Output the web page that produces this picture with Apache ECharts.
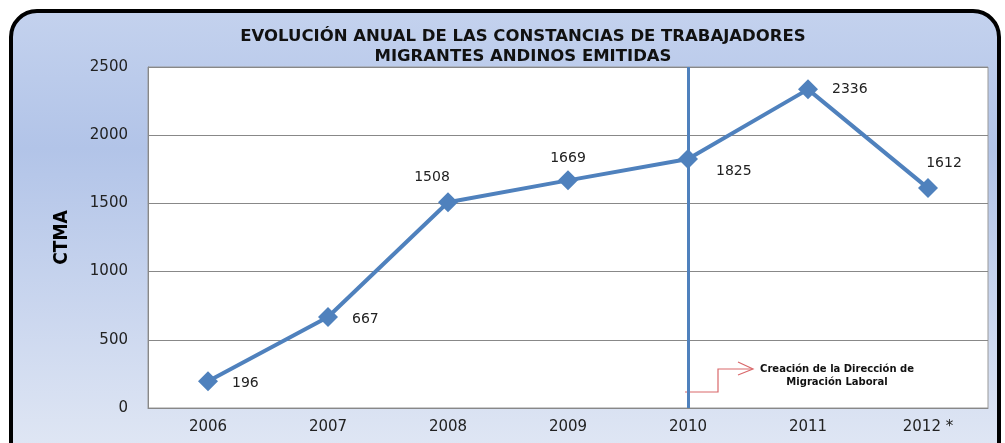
<!DOCTYPE html>
<html>
<head>
<meta charset="utf-8">
<script src="https://cdn.jsdelivr.net/npm/echarts@6/dist/echarts.min.js"></script>
<style>
  html, body { margin: 0; padding: 0; background: #fff; }
  #chart { width: 1005px; height: 443px; }
</style>
</head>
<body>
<div id="chart"></div>
<script>
// datos del gráfico
const years = ['2006', '2007', '2008', '2009', '2010', '2011', '2012 *'];
const ctma = [196, 667, 1508, 1669, 1825, 2336, 1612];
// posición de cada etiqueta de dato
const labelPos = ['right', 'right', 'top', 'top', 'right', 'right', 'top'];
const labelOffset = [[0, 2], [0, 2], [-16, 6], [0, 9], [4, 12], [0, 0], [16, 6]];

const myChart = echarts.init(document.getElementById('chart'));

const option = {
    backgroundColor: '#fff',
    title: {
        text: 'EVOLUCIÓN ANUAL DE LAS CONSTANCIAS DE TRABAJADORES\nMIGRANTES ANDINOS EMITIDAS',
        left: 518,
        top: 22,
        textAlign: 'center',
        textStyle: {
            fontFamily: 'DejaVu Sans',
            fontWeight: 'bold',
            fontSize: 16.5,
            lineHeight: 20,
            color: '#111'
        }
    },
    graphic: [
        {
            type: 'rect',
            z: -10,
            silent: true,
            shape: { x: 11, y: 11, width: 988, height: 460, r: 26 },
            style: {
                fill: new echarts.graphic.LinearGradient(0, 0, 0, 1, [
                    { offset: 0, color: '#c4d2ee' },
                    { offset: 0.3, color: '#b2c4e8' },
                    { offset: 1, color: '#e3e9f5' }
                ]),
                stroke: '#000',
                lineWidth: 4
            }
        },
        {
            type: 'polyline',
            silent: true,
            shape: { points: [[685, 392], [718, 392], [718, 369], [752, 369]] },
            style: { stroke: '#d9686a', lineWidth: 1.2, fill: null }
        },
        {
            type: 'polyline',
            silent: true,
            shape: { points: [[738, 362], [753, 369], [738, 375]] },
            style: { stroke: '#d9686a', lineWidth: 1.2, fill: null }
        },
        {
            type: 'text',
            silent: true,
            style: {
                text: 'Creación de la Dirección de\nMigración Laboral',
                x: 837,
                y: 363,
                align: 'center',
                fontFamily: 'DejaVu Sans',
                fontWeight: 'bold',
                fontSize: 10,
                lineHeight: 13,
                fill: '#111'
            }
        }
    ],
    grid: {
        left: 148,
        right: 17,
        top: 67,
        bottom: 35,
        show: true,
        backgroundColor: '#fff',
        borderColor: '#999',
        borderWidth: 1
    },
    xAxis: {
        type: 'category',
        data: years,
        axisLine: { lineStyle: { color: '#888' } },
        axisTick: { show: false },
        axisLabel: {
            margin: 12,
            fontFamily: 'DejaVu Sans',
            fontSize: 15,
            color: '#222'
        }
    },
    yAxis: {
        type: 'value',
        min: 0,
        max: 2500,
        interval: 500,
        name: 'CTMA',
        nameLocation: 'middle',
        nameGap: 76,
        nameTextStyle: {
            fontFamily: 'DejaVu Sans Condensed, Liberation Sans',
            fontWeight: 'bold',
            fontSize: 19,
            color: '#000'
        },
        axisLine: { show: true, lineStyle: { color: '#888' } },
        axisTick: { show: false },
        splitLine: { lineStyle: { color: '#888', width: 1 } },
        axisLabel: {
            margin: 20,
            formatter: v => String(v),
            fontFamily: 'DejaVu Sans',
            fontSize: 15,
            color: '#222'
        }
    },
    series: [{
        name: 'CTMA',
        type: 'line',
        data: ctma.map((v, i) => ({
            value: v,
            label: { position: labelPos[i], offset: labelOffset[i] }
        })),
        symbol: 'diamond',
        symbolSize: 20,
        lineStyle: { color: '#4f81bd', width: 4 },
        itemStyle: { color: '#4f81bd' },
        label: {
            show: true,
            distance: 14,
            fontFamily: 'DejaVu Sans',
            fontSize: 14,
            color: '#222'
        },
        markLine: {
            silent: true,
            symbol: 'none',
            label: { show: false },
            lineStyle: { color: '#4f81bd', width: 3, type: 'solid' },
            data: [[
                { coord: ['2010', 2500] },
                { coord: ['2010', 0] }
            ]]
        }
    }]
};

myChart.setOption(option);
</script>
</body>
</html>
